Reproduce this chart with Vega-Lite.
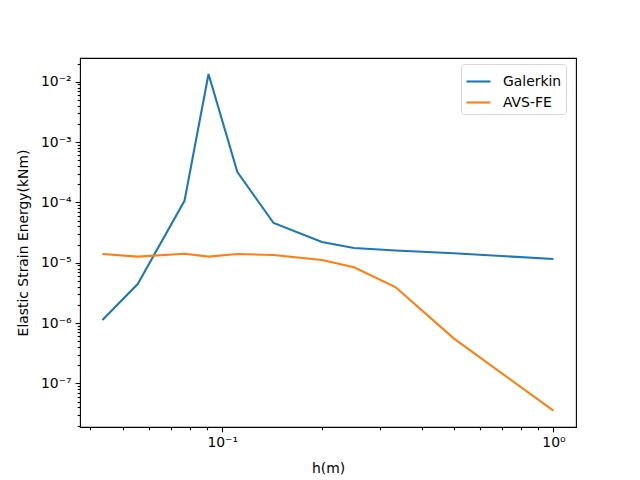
{
  "$schema": "https://vega.github.io/schema/vega-lite/v6.json",
  "width": 496,
  "height": 369,
  "autosize": {"type": "none"},
  "padding": {"left": 80, "top": 58, "right": 64, "bottom": 53},
  "background": "white",
  "config": {
    "font": "DejaVu Sans",
    "view": {"stroke": "black", "strokeWidth": 1.1},
    "axis": {
      "domain": false,
      "grid": false,
      "labelFont": "DejaVu Sans",
      "labelFontSize": 13.9,
      "labelColor": "black",
      "titleFont": "DejaVu Sans",
      "titleFontSize": 13.9,
      "titleFontWeight": "normal",
      "titleColor": "black",
      "tickColor": "black",
      "tickWidth": 1.1,
      "labelPadding": 4,
      "labelOverlap": false,
      "labelFlush": false
    },
    "legend": {
      "labelFont": "DejaVu Sans",
      "labelFontSize": 13.9,
      "labelColor": "black"
    }
  },
  "data": {
    "values": [
      {"h": 0.04348, "energy": 1.12e-6, "method": "Galerkin"},
      {"h": 0.05556, "energy": 4.43e-6, "method": "Galerkin"},
      {"h": 0.07692, "energy": 1.06e-4, "method": "Galerkin"},
      {"h": 0.09091, "energy": 1.34e-2, "method": "Galerkin"},
      {"h": 0.1111, "energy": 3.18e-4, "method": "Galerkin"},
      {"h": 0.1429, "energy": 4.55e-5, "method": "Galerkin"},
      {"h": 0.2, "energy": 2.2e-5, "method": "Galerkin"},
      {"h": 0.25, "energy": 1.75e-5, "method": "Galerkin"},
      {"h": 0.3333, "energy": 1.59e-5, "method": "Galerkin"},
      {"h": 0.5, "energy": 1.43e-5, "method": "Galerkin"},
      {"h": 1.0, "energy": 1.15e-5, "method": "Galerkin"},
      {"h": 0.04348, "energy": 1.39e-5, "method": "AVS-FE"},
      {"h": 0.05556, "energy": 1.26e-5, "method": "AVS-FE"},
      {"h": 0.07692, "energy": 1.41e-5, "method": "AVS-FE"},
      {"h": 0.09091, "energy": 1.26e-5, "method": "AVS-FE"},
      {"h": 0.1111, "energy": 1.39e-5, "method": "AVS-FE"},
      {"h": 0.1429, "energy": 1.34e-5, "method": "AVS-FE"},
      {"h": 0.2, "energy": 1.11e-5, "method": "AVS-FE"},
      {"h": 0.25, "energy": 8.37e-6, "method": "AVS-FE"},
      {"h": 0.3333, "energy": 3.95e-6, "method": "AVS-FE"},
      {"h": 0.5, "energy": 5.57e-7, "method": "AVS-FE"},
      {"h": 1.0, "energy": 3.52e-8, "method": "AVS-FE"}
    ]
  },
  "mark": {"type": "line", "strokeWidth": 2.1, "clip": true},
  "encoding": {
    "x": {
      "field": "h",
      "type": "quantitative",
      "title": "h(m)",
      "scale": {"type": "log", "domain": [0.0372, 1.17], "nice": false, "zero": false},
      "axis": {
        "values": [0.04, 0.05, 0.06, 0.07, 0.08, 0.09, 0.1, 0.2, 0.3, 0.4, 0.5, 0.6, 0.7, 0.8, 0.9, 1],
        "labelExpr": "datum.value == 0.1 ? '10⁻¹' : datum.value == 1 ? '10⁰' : ''",
        "tickSize": {"condition": {"test": "indexof([0.1, 1], datum.value) >= 0", "value": 4.9}, "value": 2.8},
        "titlePadding": 12
      }
    },
    "y": {
      "field": "energy",
      "type": "quantitative",
      "title": "Elastic Strain Energy(kNm)",
      "scale": {"type": "log", "domain": [1.89e-8, 0.0247], "nice": false, "zero": false},
      "axis": {
        "values": [2e-8, 3e-8, 4e-8, 5e-8, 6e-8, 7e-8, 8e-8, 9e-8,
                   1e-7, 2e-7, 3e-7, 4e-7, 5e-7, 6e-7, 7e-7, 8e-7, 9e-7,
                   1e-6, 2e-6, 3e-6, 4e-6, 5e-6, 6e-6, 7e-6, 8e-6, 9e-6,
                   1e-5, 2e-5, 3e-5, 4e-5, 5e-5, 6e-5, 7e-5, 8e-5, 9e-5,
                   1e-4, 2e-4, 3e-4, 4e-4, 5e-4, 6e-4, 7e-4, 8e-4, 9e-4,
                   1e-3, 2e-3, 3e-3, 4e-3, 5e-3, 6e-3, 7e-3, 8e-3, 9e-3,
                   1e-2, 2e-2],
        "labelExpr": "indexof([1e-2, 1e-3, 1e-4, 1e-5, 1e-6, 1e-7], datum.value) >= 0 ? ['10⁻²', '10⁻³', '10⁻⁴', '10⁻⁵', '10⁻⁶', '10⁻⁷'][indexof([1e-2, 1e-3, 1e-4, 1e-5, 1e-6, 1e-7], datum.value)] : ''",
        "tickSize": {"condition": {"test": "indexof([1e-2, 1e-3, 1e-4, 1e-5, 1e-6, 1e-7], datum.value) >= 0", "value": 4.9}, "value": 2.8},
        "titlePadding": 10
      }
    },
    "color": {
      "field": "method",
      "type": "nominal",
      "sort": ["Galerkin", "AVS-FE"],
      "scale": {"domain": ["Galerkin", "AVS-FE"], "range": ["#1f77b4", "#ff7f0e"]},
      "legend": {
        "title": null,
        "orient": "none",
        "legendX": 381,
        "legendY": 6,
        "symbolType": "stroke",
        "symbolSize": 576,
        "symbolStrokeWidth": 2.1,
        "labelOffset": 11,
        "padding": 4,
        "rowPadding": -3,
        "strokeColor": "#d6d6d6",
        "fillColor": "white",
        "cornerRadius": 3
      }
    }
  }
}
